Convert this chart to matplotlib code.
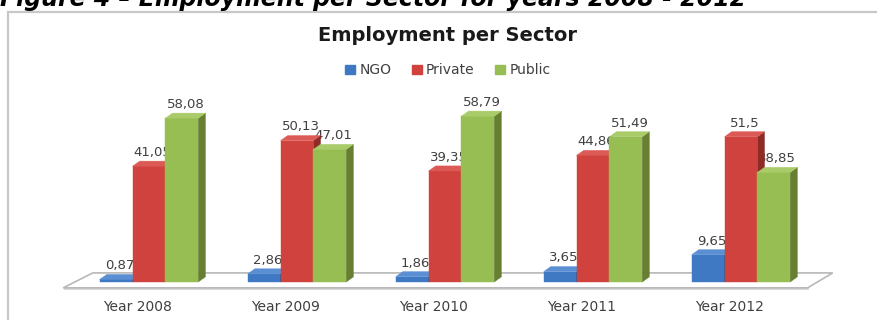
#!/usr/bin/env python3
# -*- coding: utf-8 -*-

import matplotlib
matplotlib.use("Agg")
import matplotlib.pyplot as plt
from matplotlib.patches import Polygon, Rectangle, Patch


# data to plot
years = ["Year 2008", "Year 2009", "Year 2010", "Year 2011", "Year 2012"]
sectors = ["NGO", "Private", "Public"]
ngo = [0.87, 2.86, 1.86, 3.65, 9.65]
private = [41.05, 50.13, 39.35, 44.86, 51.5]
public = [58.08, 47.01, 58.79, 51.49, 38.85]

# front / side / top colours per series
colors = {
    "NGO": ("#3F79C4", "#2A558F", "#5A8FD3"),
    "Private": ("#D0423D", "#8E2B27", "#DC5A55"),
    "Public": ("#97BE52", "#667F30", "#A9CB6A"),
}

W = 0.222     # bar width (category units)
DX = 0.048    # fake depth, horizontal
DY = 1.8      # fake depth, vertical (value units)


def bar3d(ax, x, h, front, side, top, z):
    # front face through the normal bar api, side and top as polygons
    ax.bar(x, h, width=W, color=front, edgecolor=front, lw=0.3, zorder=z)
    l, r = x - W / 2, x + W / 2
    ax.add_patch(Polygon([(r, 0), (r + DX, DY), (r + DX, h + DY), (r, h)],
                         closed=True, fc=side, ec=side, lw=0.3, zorder=z))
    ax.add_patch(Polygon([(l, h), (r, h), (r + DX, h + DY), (l + DX, h + DY)],
                         closed=True, fc=top, ec=top, lw=0.3, zorder=z))


fig = plt.figure(figsize=(8.78, 3.2), dpi=100)
ax = fig.add_axes([0, 0, 1, 1])
ax.set_xlim(-1.007, 4.926)
ax.set_ylim(-13.5, 100)
ax.axis("off")

# chart frame
fig.patches.append(Rectangle((0.009, -0.2), 1.2, 1.1625, transform=fig.transFigure,
                             fill=False, ec="#C8C8C8", lw=1.6, zorder=0))

# caption above the chart (clipped by the page)
fig.text(0.0, 0.982, "Figure 4 \u2013 Employment per Sector for years 2008 - 2012",
         fontsize=17, fontweight="bold", fontstyle="italic", color="black",
         ha="left", va="baseline")

# floor
n = len(years)
fx0, fx1 = -0.58, n - 0.55
ax.add_patch(Polygon([(fx0, -2.1), (fx1, -2.1), (fx1 + 0.17, 3.2), (fx0 + 0.2, 3.2)],
                     closed=True, fc="white", ec="#B8B8B8", lw=1.2, zorder=1))
ax.plot([fx0 + 0.01, fx1], [-2.6, -2.6], color="#DADADA", lw=1.5, zorder=0.9)

series = [ngo, private, public]
for k, (name, vals) in enumerate(zip(sectors, series)):
    front, side, top = colors[name]
    for i, v in enumerate(vals):
        x = i + (k - 1) * W
        bar3d(ax, x, v, front, side, top, 3 + k)
        ax.annotate(("%g" % v).replace(".", ","), (x + DX / 2, v + DY),
                    xytext=(0, 1.5), textcoords="offset points",
                    ha="center", va="bottom", fontsize=9.5, color="#404040", zorder=2)

for i, y in enumerate(years):
    ax.text(i - 0.075, -8.9, y, ha="center", va="center", fontsize=10, color="#404040")

fig.text(0.51, 0.89, "Employment per Sector", ha="center", va="center",
         fontsize=14, fontweight="bold", color="#1A1A1A")

handles = [Patch(color=colors[s][0]) for s in sectors]
fig.legend(handles, sectors, loc="center", bbox_to_anchor=(0.51, 0.78), ncol=3,
           frameon=False, fontsize=10, handlelength=0.7, handleheight=0.7,
           handletextpad=0.3, columnspacing=1.5, labelcolor="#404040")

fig.savefig("out.png", dpi=100)
